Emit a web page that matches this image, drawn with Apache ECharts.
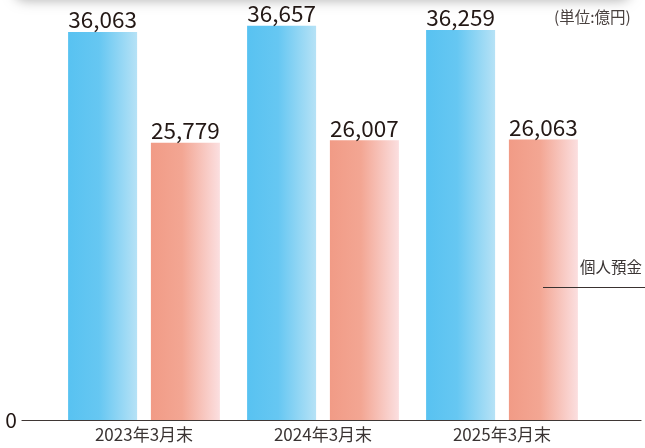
<!DOCTYPE html>
<html><head><meta charset="utf-8">
<script src="https://cdn.jsdelivr.net/npm/echarts@6/dist/echarts.min.js"></script>
<style>html,body{margin:0;padding:0;background:#fff}#c{width:645px;height:448px}</style>
</head><body><div id="c"></div>
<script>
const categories = ['2023年3月末', '2024年3月末', '2025年3月末'];
const totalDeposits = [36063, 36657, 36259];
const personalDeposits = [25779, 26007, 26063];
const unitLabel = '(単位:億円)';
const seriesNote = '個人預金';

const FONT = '"Noto Sans CJK JP", "Noto Sans", sans-serif';
const chart = echarts.init(document.getElementById('c'));
const blueGrad = new echarts.graphic.LinearGradient(0, 0, 1, 0, [
  {offset: 0, color: '#58C2F1'}, {offset: 0.45, color: '#66C7F2'}, {offset: 1, color: '#B6E2F6'}]);
const pinkGrad = new echarts.graphic.LinearGradient(0, 0, 1, 0, [
  {offset: 0, color: '#F19B86'}, {offset: 0.45, color: '#F3A693'}, {offset: 1, color: '#FBDFE0'}]);
const fmt = p => p.value.toLocaleString('en-US');
chart.setOption({
  animation: false,
  textStyle: {fontFamily: FONT},
  grid: [
    {left: 54.5, right: 53.5, top: 11.2, bottom: 28},
    {left: 22, right: 4, top: 11.2, bottom: 28}
  ],
  xAxis: [
    {type: 'category', data: categories, gridIndex: 0,
     axisLine: {show: false}, axisTick: {show: false},
     axisLabel: {color: '#3a3433', fontSize: 17, margin: 6, fontFamily: FONT}},
    {type: 'category', data: categories, gridIndex: 1,
     axisLine: {show: true, lineStyle: {color: '#3f3735', width: 1.2}},
     axisTick: {show: false}, axisLabel: {show: false}}
  ],
  yAxis: [
    {type: 'value', min: 0, max: 38000, interval: 38000, gridIndex: 0,
     splitLine: {show: false}, axisLine: {show: false}, axisTick: {show: false},
     axisLabel: {show: false}},
    {type: 'value', min: 0, max: 38000, interval: 38000, gridIndex: 1,
     splitLine: {show: false}, axisLine: {show: false}, axisTick: {show: false},
     axisLabel: {color: '#231815', fontSize: 21, margin: 5, fontFamily: FONT,
       formatter: v => v === 0 ? '0' : ''}}
  ],
  series: [
    {type: 'bar', data: totalDeposits, barWidth: 69, barGap: '20%',
     itemStyle: {color: blueGrad},
     label: {show: true, position: 'top', distance: 1, color: '#231815', fontSize: 22.5, fontFamily: FONT, formatter: fmt}},
    {type: 'bar', data: personalDeposits, barWidth: 69, barGap: '20%',
     itemStyle: {color: pinkGrad},
     label: {show: true, position: 'top', distance: 1, color: '#231815', fontSize: 22.5, fontFamily: FONT, formatter: fmt}}
  ],
  graphic: [
    {type: 'rect', shape: {x: 14, y: -30, width: 617, height: 30, r: 12},
     style: {fill: '#fff', shadowColor: 'rgba(0,0,0,0.28)', shadowBlur: 12, shadowOffsetY: 1}, z: 10},
    {type: 'text', left: 554, top: 9, style: {text: unitLabel, fill: '#4a4240', fontSize: 15.5, fontFamily: FONT}},
    {type: 'text', left: 580, top: 259, style: {text: seriesNote, fill: '#3a3433', fontSize: 15.5, fontFamily: FONT}},
    {type: 'line', z: 100, shape: {x1: 543, y1: 287.5, x2: 645, y2: 287.5}, style: {stroke: '#3a3230', lineWidth: 1}}
  ]
});
</script></body></html>
